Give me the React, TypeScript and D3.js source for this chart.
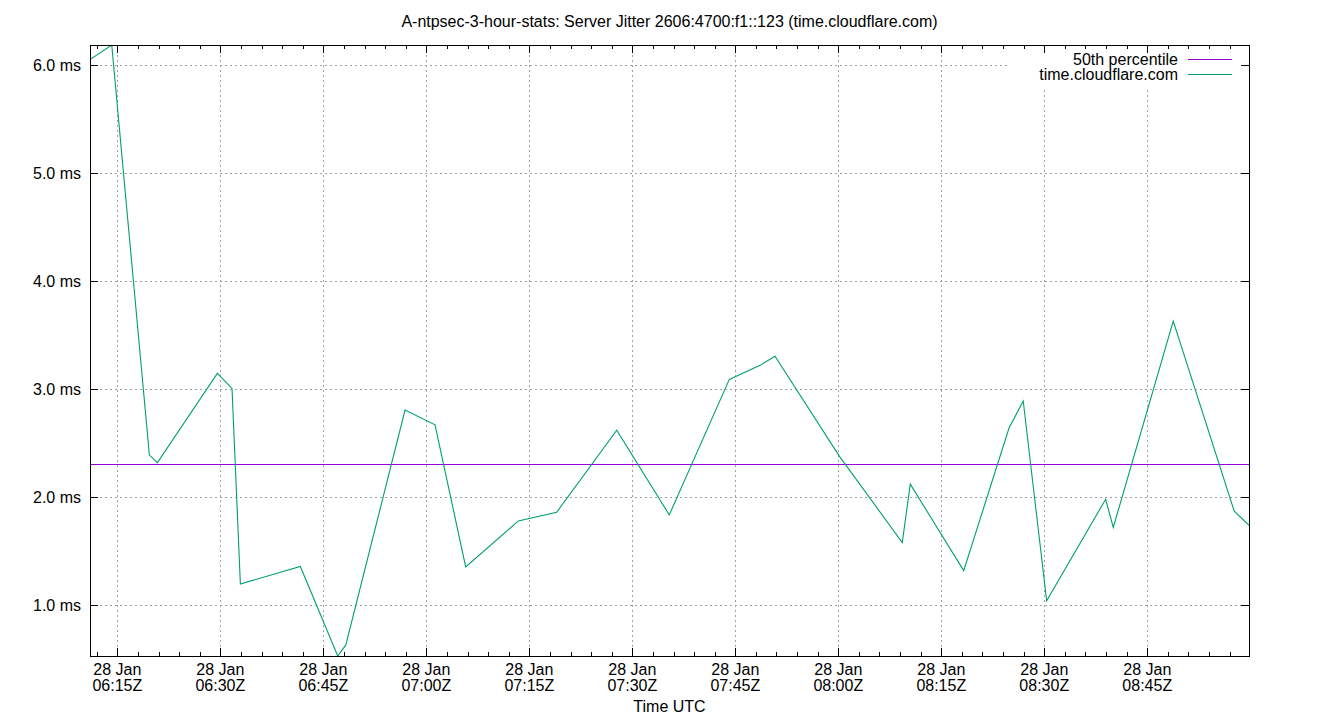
import React from "react";
import * as d3 from "d3";

const times: string[] = [
  "06:11:01", "06:14:11", "06:19:40", "06:20:50", "06:29:34", "06:31:42", "06:32:55",
  "06:41:39", "06:47:06", "06:48:16", "06:56:54", "07:01:16", "07:05:44", "07:13:24",
  "07:18:59", "07:27:44", "07:35:23", "07:44:08", "07:48:36", "07:50:47", "08:00:09",
  "08:09:19", "08:10:29", "08:18:16", "08:24:52", "08:26:56", "08:30:21", "08:38:56",
  "08:40:03", "08:48:47", "08:57:40", "08:59:49",
];
const jitterMs: number[] = [
  6.05, 6.185, 2.39, 2.32, 3.145, 3.006, 1.197,
  1.358, 0.53, 0.63, 2.806, 2.67, 1.355, 1.78,
  1.86, 2.62, 1.836, 3.09, 3.22, 3.305, 2.38,
  1.58, 2.12, 1.32, 2.64, 2.89, 1.04, 1.98,
  1.72, 3.63, 1.87, 1.74,
];
const percentile50 = 2.305;
const yTicks: number[] = [1, 2, 3, 4, 5, 6];
const dateStr = "2025-01-28";
const title = "A-ntpsec-3-hour-stats: Server Jitter 2606:4700:f1::123 (time.cloudflare.com)";
const xLabel = "Time UTC";
const legendNames: string[] = ["50th percentile", "time.cloudflare.com"];

const W = 1340, H = 720;
const L = 90, R = 1249, T = 45, B = 656;
const FONT = "'Liberation Sans', Arial, sans-serif";
const FS = 16;
const GREEN = "#009e73";
const PURPLE = "#9400d3";

export default function App() {
  const parse = d3.utcParse("%Y-%m-%d %H:%M:%S");
  const data = times.map((t, i) => ({ t: parse(`${dateStr} ${t}`) as Date, v: jitterMs[i] }));
  const x = d3.scaleUtc().domain(d3.extent(data, (d) => d.t) as [Date, Date]).range([L, R]);
  const y = d3.scaleLinear().domain(d3.extent(data, (d) => d.v) as [number, number]).range([B, T]);
  const majors = x.ticks(d3.utcMinute.every(15)!);
  const minors = x.ticks(d3.utcMinute.every(3)!);
  const line = d3.line<{ t: Date; v: number }>().x((d) => x(d.t)).y((d) => y(d.v));
  const fmtTime = d3.utcFormat("%H:%MZ");
  const fmtDay = d3.utcFormat("%d %b");
  const px = (v: number) => Math.round(v) + 0.5;

  const legendX1 = 1188, legendX2 = 1232, legendTextX = 1178;
  const legendY = [59, 74];

  return (
    <svg width={W} height={H} style={{ position: "absolute", left: 0, top: 0, background: "#fff" }} fontFamily={FONT}>
      <defs>
        <clipPath id="plot">
          <rect x={L} y={T} width={R - L} height={B - T} />
        </clipPath>
      </defs>
      <rect x={0} y={0} width={W} height={H} fill="#fff" />
      {/* grid */}
      <g stroke="#a0a0a0" strokeWidth={1} strokeDasharray="2,3" shapeRendering="crispEdges">
        {majors.map((d, i) => (
          <line key={"gx" + i} x1={px(x(d))} x2={px(x(d))} y1={T} y2={B} />
        ))}
        {yTicks.map((v, i) => (
          <line key={"gy" + i} x1={L} x2={R} y1={px(y(v))} y2={px(y(v))} />
        ))}
      </g>
      {/* legend opaque box */}
      <rect x={1008} y={T + 1} width={234} height={43} fill="#fff" />
      {/* data */}
      <g clipPath="url(#plot)">
        <line x1={L} x2={R} y1={px(y(percentile50))} y2={px(y(percentile50))} stroke={PURPLE} strokeWidth={1} shapeRendering="crispEdges" />
        <path d={line(data) || ""} fill="none" stroke={GREEN} strokeWidth={1.1} />
      </g>
      {/* legend */}
      <g fontSize={FS} textAnchor="end">
        {legendNames.map((n, i) => (
          <g key={n}>
            <text x={legendTextX} y={legendY[i] + 6} fill="#000">{n}</text>
            <line x1={legendX1} x2={legendX2} y1={legendY[i] + 0.5} y2={legendY[i] + 0.5} stroke={i === 0 ? PURPLE : GREEN} strokeWidth={1} shapeRendering="crispEdges" />
          </g>
        ))}
      </g>
      {/* ticks */}
      <g stroke="#000" strokeWidth={1} shapeRendering="crispEdges">
        {minors.map((d, i) => (
          <g key={"mx" + i}>
            <line x1={px(x(d))} x2={px(x(d))} y1={B} y2={B - 4} />
            <line x1={px(x(d))} x2={px(x(d))} y1={T} y2={T + 4} />
          </g>
        ))}
        {majors.map((d, i) => (
          <g key={"Mx" + i}>
            <line x1={px(x(d))} x2={px(x(d))} y1={B} y2={B - 8} />
            <line x1={px(x(d))} x2={px(x(d))} y1={T} y2={T + 8} />
          </g>
        ))}
        {yTicks.map((v, i) => (
          <g key={"My" + i}>
            <line x1={L} x2={L + 8} y1={px(y(v))} y2={px(y(v))} />
            <line x1={R} x2={R - 8} y1={px(y(v))} y2={px(y(v))} />
          </g>
        ))}
      </g>
      {/* frame */}
      <rect x={L + 0.5} y={T + 0.5} width={R - L} height={B - T} fill="none" stroke="#000" strokeWidth={1} shapeRendering="crispEdges" />
      {/* tick labels */}
      <g fontSize={FS} fill="#000">
        {yTicks.map((v, i) => (
          <text key={"ly" + i} x={81} y={y(v) + 6} textAnchor="end">{`${v.toFixed(1)} ms`}</text>
        ))}
        {majors.map((d, i) => (
          <g key={"lx" + i}>
            <text x={x(d)} y={675} textAnchor="middle">{fmtDay(d)}</text>
            <text x={x(d)} y={691} textAnchor="middle">{fmtTime(d)}</text>
          </g>
        ))}
        <text x={(L + R) / 2} y={712} textAnchor="middle">{xLabel}</text>
        <text x={(L + R) / 2} y={27} textAnchor="middle">{title}</text>
      </g>
    </svg>
  );
}
